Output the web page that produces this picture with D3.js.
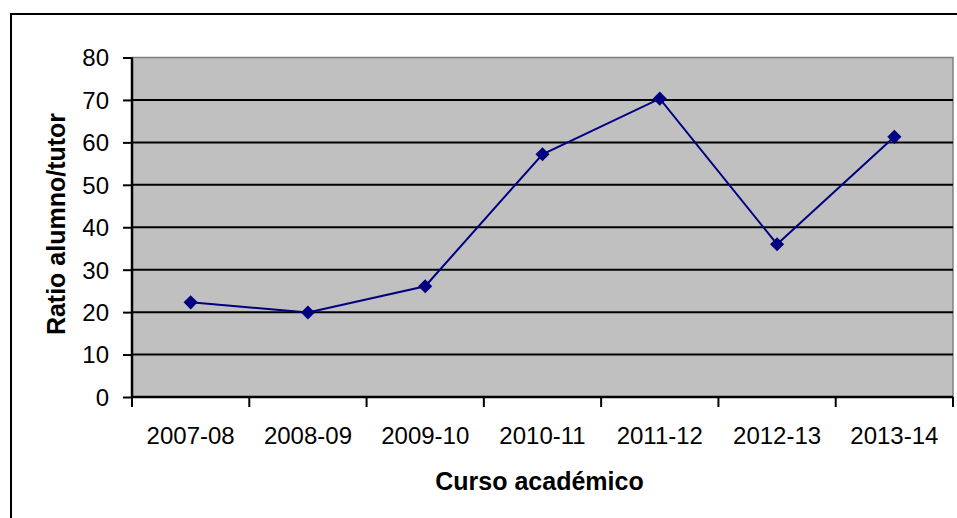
<!DOCTYPE html>
<meta charset="utf-8">
<style>
body { margin: 0; background: #fff; }
text { font-family: Arial, "Liberation Sans", sans-serif; fill: #000; }
.tick text { font-size: 24px; }
.axis-title { font-size: 25px; font-weight: bold; }
</style>
<svg width="957" height="518"></svg>
<script src="https://d3js.org/d3.v7.min.js"></script>
<script>

var cursos = ["2007-08", "2008-09", "2009-10", "2010-11", "2011-12", "2012-13", "2013-14"];
var ratios = [22.3, 19.9, 26.1, 57.2, 70.3, 36.0, 61.3];
var yTicks = [0, 10, 20, 30, 40, 50, 60, 70, 80];

var svg = d3.select("svg");

// plot area edges (note: "top" is reserved on window)
var pLeft = 132, pRight = 953, pTop = 57.5, pBottom = 397;

// outer frame of the chart object
svg.append("rect")
    .attr("x", 11).attr("y", 14)
    .attr("width", 980).attr("height", 540)
    .attr("fill", "#fff")
    .attr("stroke", "#000")
    .attr("stroke-width", 2);

var x = d3.scaleBand().domain(cursos).range([pLeft, pRight]);
var y = d3.scaleLinear().domain([0, 80]).range([pBottom, pTop]);

// plot area
svg.append("rect")
    .attr("x", pLeft).attr("y", pTop)
    .attr("width", pRight - pLeft).attr("height", pBottom - pTop)
    .attr("fill", "#c0c0c0")
    .attr("stroke", "#808080")
    .attr("stroke-width", 1.5);

// gridlines
svg.append("g")
  .selectAll("line")
  .data(yTicks.filter(function(d) { return d > 0 && d < 80; }))
  .enter().append("line")
    .attr("x1", pLeft).attr("x2", pRight)
    .attr("y1", function(d) { return y(d); })
    .attr("y2", function(d) { return y(d); })
    .attr("stroke", "#000")
    .attr("stroke-width", 2);

// y axis
var yAxis = svg.append("g")
    .attr("transform", "translate(" + pLeft + ",0)")
    .call(d3.axisLeft(y).tickValues(yTicks).tickSize(9).tickPadding(14));
yAxis.select(".domain").attr("stroke", "#000").attr("stroke-width", 2.5)
    .attr("d", "M0," + pTop + "V" + pBottom);
yAxis.selectAll(".tick line").attr("stroke-width", 2);
yAxis.selectAll(".tick text").attr("dy", "0.35em");

// x axis: ticks at category boundaries
var xAxis = svg.append("g")
    .attr("transform", "translate(0," + pBottom + ")")
    .call(d3.axisBottom(x).tickSize(0).tickPadding(47));
xAxis.select(".domain").attr("stroke", "#000").attr("stroke-width", 2.5)
    .attr("d", "M" + pLeft + ",0H" + pRight);
xAxis.selectAll(".tick text").attr("dy", "0");

var bounds = cursos.map(function(c) { return x(c); }).concat([pRight]);
xAxis.selectAll("line.sep")
  .data(bounds)
  .enter().append("line")
    .attr("class", "sep")
    .attr("x1", function(d) { return d; })
    .attr("x2", function(d) { return d; })
    .attr("y1", 0).attr("y2", 10)
    .attr("stroke", "#000")
    .attr("stroke-width", 2);

// series
var pts = cursos.map(function(c, i) { return { c: c, v: ratios[i] }; });

var line = d3.line()
    .x(function(d) { return x(d.c) + x.bandwidth() / 2; })
    .y(function(d) { return y(d.v); });

svg.append("path")
    .datum(pts)
    .attr("d", line)
    .attr("fill", "none")
    .attr("stroke", "#000080")
    .attr("stroke-width", 2);

svg.append("g")
  .selectAll("path")
  .data(pts)
  .enter().append("path")
    .attr("d", d3.symbol().type(d3.symbolSquare).size(100))
    .attr("transform", function(d) {
      return "translate(" + (x(d.c) + x.bandwidth() / 2) + "," + y(d.v) + ") rotate(45)";
    })
    .attr("fill", "#000080");

// axis titles
svg.append("text")
    .attr("class", "axis-title")
    .attr("x", (pLeft + pRight) / 2 - 3)
    .attr("y", 490)
    .attr("text-anchor", "middle")
    .text("Curso académico");

svg.append("text")
    .attr("class", "axis-title")
    .attr("transform", "translate(65,224) rotate(-90)")
    .attr("text-anchor", "middle")
    .text("Ratio alumno/tutor");

</script>
